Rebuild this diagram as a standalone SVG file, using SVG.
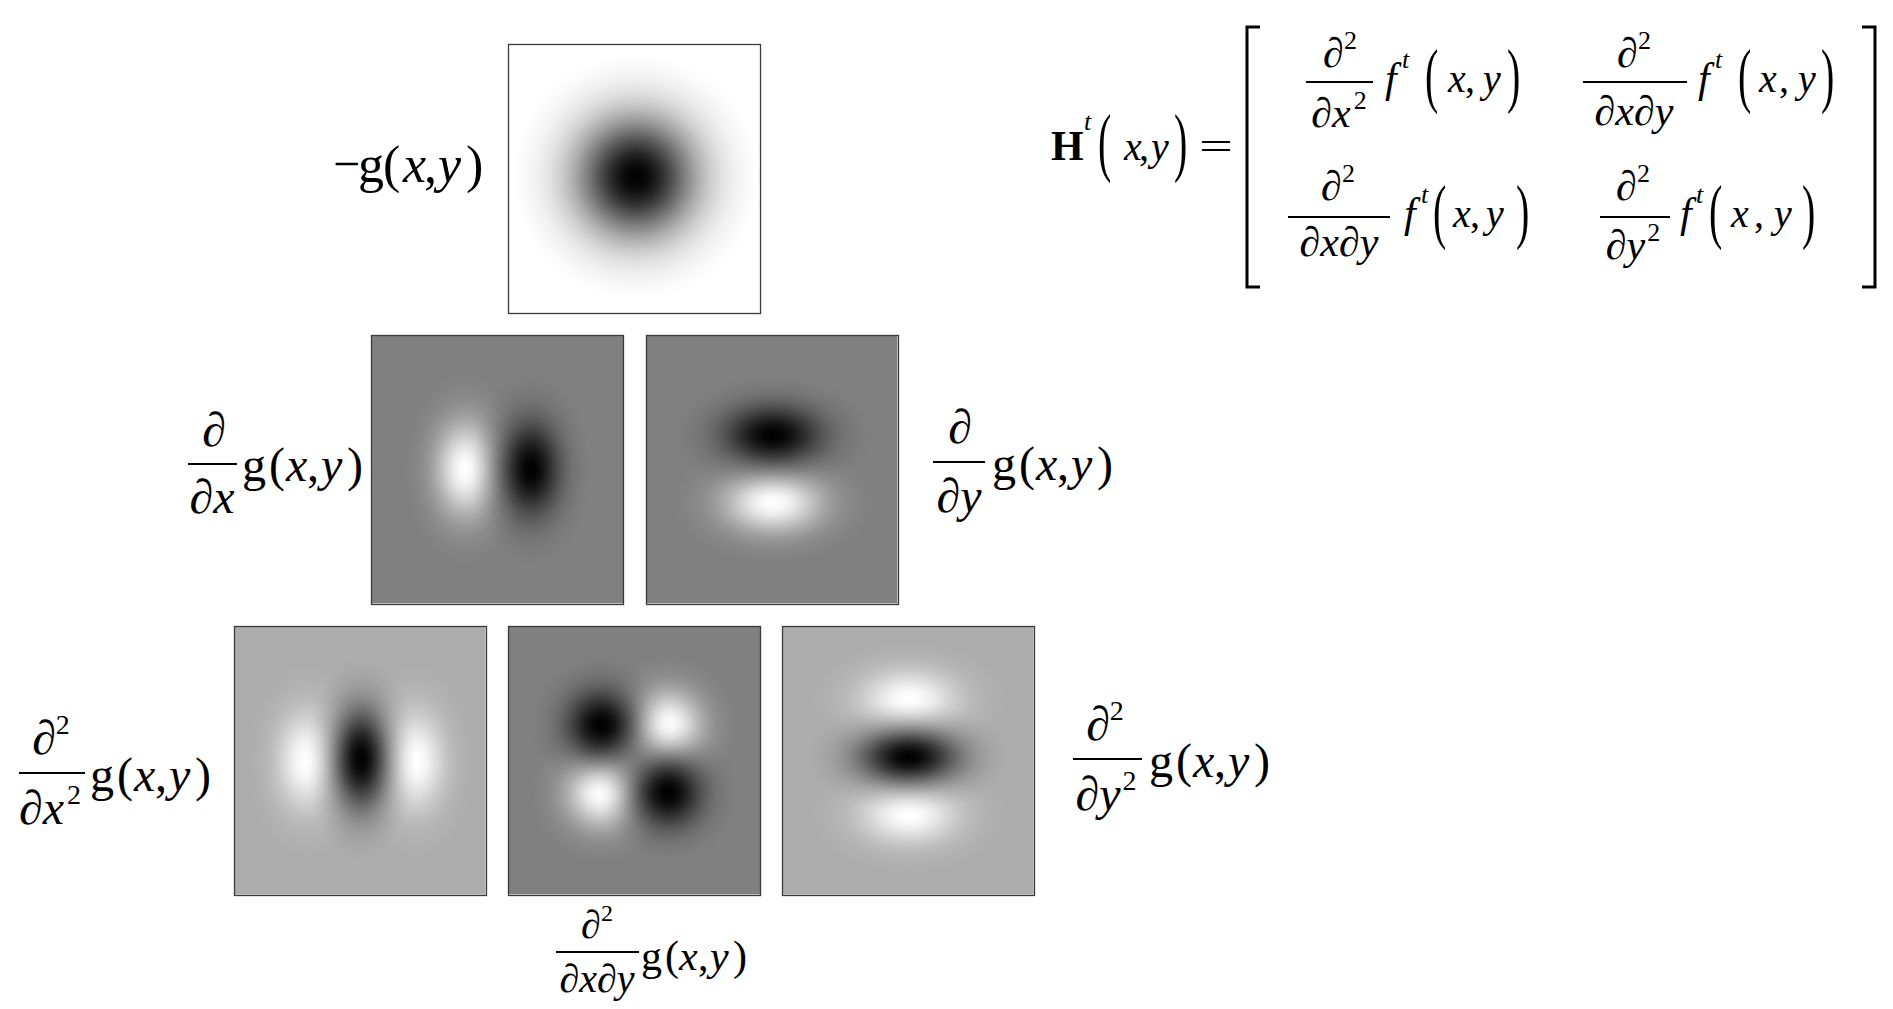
<svg xmlns="http://www.w3.org/2000/svg" width="1893" height="1009" viewBox="0 0 1893 1009">
<style>
text { font-family: "Liberation Serif", "Times New Roman", serif; fill: #000; }
.i { font-style: italic; }
.b { font-weight: bold; }
.bar { stroke: #000; stroke-width: 2; }
.frame { fill: none; stroke: #3a3a3a; stroke-width: 1.3; }
.hl { stroke: #d4d4d4; stroke-width: 1; }
.bgw { fill: #ffffff; }
.bgm { fill: #808080; }
.bgl { fill: #adadad; }
.lbl { font-size: 48px; }
.pd { font-size: 48px; }
.sup { font-size: 28px; }
.mx { font-size: 40px; }
.mf { font-size: 42px; font-style: italic; }
.mpd { font-size: 42px; }
.msup { font-size: 26px; }
.sm { font-size: 42px; }
.smpd { font-size: 40px; }
.smsup { font-size: 24px; }
</style>
<defs>
<radialGradient id="gk">
<stop offset="0" stop-color="#000" stop-opacity="1"/>
<stop offset="0.1" stop-color="#000" stop-opacity="0.956"/>
<stop offset="0.2" stop-color="#000" stop-opacity="0.835"/>
<stop offset="0.3" stop-color="#000" stop-opacity="0.667"/>
<stop offset="0.4" stop-color="#000" stop-opacity="0.487"/>
<stop offset="0.5" stop-color="#000" stop-opacity="0.325"/>
<stop offset="0.6" stop-color="#000" stop-opacity="0.198"/>
<stop offset="0.7" stop-color="#000" stop-opacity="0.110"/>
<stop offset="0.8" stop-color="#000" stop-opacity="0.056"/>
<stop offset="0.9" stop-color="#000" stop-opacity="0.022"/>
<stop offset="1" stop-color="#000" stop-opacity="0"/>
</radialGradient>
<radialGradient id="gw">
<stop offset="0" stop-color="#fff" stop-opacity="1"/>
<stop offset="0.1" stop-color="#fff" stop-opacity="0.956"/>
<stop offset="0.2" stop-color="#fff" stop-opacity="0.835"/>
<stop offset="0.3" stop-color="#fff" stop-opacity="0.667"/>
<stop offset="0.4" stop-color="#fff" stop-opacity="0.487"/>
<stop offset="0.5" stop-color="#fff" stop-opacity="0.325"/>
<stop offset="0.6" stop-color="#fff" stop-opacity="0.198"/>
<stop offset="0.7" stop-color="#fff" stop-opacity="0.110"/>
<stop offset="0.8" stop-color="#fff" stop-opacity="0.056"/>
<stop offset="0.9" stop-color="#fff" stop-opacity="0.022"/>
<stop offset="1" stop-color="#fff" stop-opacity="0"/>
</radialGradient>
<clipPath id="c-gxy"><rect x="508" y="626" width="253" height="270"/></clipPath>
</defs>
<rect width="1893" height="1009" fill="#fff"/>

<g id="panel-g">
<rect class="bgw" x="508" y="44" width="253" height="270"/>
<ellipse cx="636" cy="177" rx="124" ry="124" fill="url(#gk)"/>
<rect class="frame" x="508.5" y="44.5" width="252" height="269"/>
</g>

<g id="panel-gx">
<rect class="bgm" x="371" y="335" width="253" height="270"/>
<ellipse cx="465" cy="469" rx="60" ry="96" fill="url(#gw)"/>
<ellipse cx="531" cy="469" rx="60" ry="96" fill="url(#gk)"/>
<line class="hl" x1="372" y1="603.5" x2="623" y2="603.5"/>
<rect class="frame" x="371.5" y="335.5" width="252" height="269"/>
</g>

<g id="panel-gy">
<rect class="bgm" x="646" y="335" width="253" height="270"/>
<ellipse cx="773" cy="503" rx="100" ry="60" fill="url(#gw)"/>
<ellipse cx="773" cy="435" rx="100" ry="60" fill="url(#gk)"/>
<line class="hl" x1="647" y1="603.5" x2="898" y2="603.5"/>
<line class="hl" x1="897.5" y1="336" x2="897.5" y2="604"/>
<rect class="frame" x="646.5" y="335.5" width="252" height="269"/>
</g>

<g id="panel-gxx">
<rect class="bgl" x="234" y="626" width="253" height="270"/>
<ellipse cx="306" cy="761" rx="58" ry="98" fill="url(#gw)"/>
<ellipse cx="416" cy="761" rx="58" ry="98" fill="url(#gw)"/>
<ellipse cx="361" cy="759" rx="55" ry="102" fill="url(#gk)"/>
<line class="hl" x1="235" y1="894.5" x2="486" y2="894.5"/>
<line class="hl" x1="485.5" y1="627" x2="485.5" y2="895"/>
<rect class="frame" x="234.5" y="626.5" width="252" height="269"/>
</g>

<g id="panel-gxy">
<rect class="bgm" x="508" y="626" width="253" height="270"/>
<g clip-path="url(#c-gxy)">
<ellipse cx="668" cy="725" rx="70" ry="70" fill="url(#gw)"/>
<ellipse cx="601" cy="793" rx="70" ry="70" fill="url(#gw)"/>
<ellipse cx="601" cy="725" rx="70" ry="70" fill="url(#gk)"/>
<ellipse cx="668" cy="793" rx="70" ry="70" fill="url(#gk)"/>
</g>
<line class="hl" x1="509" y1="894.5" x2="760" y2="894.5"/>
<rect class="frame" x="508.5" y="626.5" width="252" height="269"/>
</g>

<g id="panel-gyy">
<rect class="bgl" x="782" y="626" width="253" height="270"/>
<ellipse cx="909" cy="699" rx="98" ry="58" fill="url(#gw)"/>
<ellipse cx="909" cy="815" rx="98" ry="58" fill="url(#gw)"/>
<ellipse cx="909" cy="757" rx="102" ry="55" fill="url(#gk)"/>
<line class="hl" x1="783" y1="894.5" x2="1034" y2="894.5"/>
<line class="hl" x1="1033.5" y1="627" x2="1033.5" y2="895"/>
<rect class="frame" x="782.5" y="626.5" width="252" height="269"/>
</g>

<g id="label-g" font-size="52">
<text x="333" y="180" font-size="48">−</text>
<text x="358" y="182">g</text>
<text x="383" y="182">(</text>
<text class="i" x="403" y="182">x</text>
<text x="424" y="182">,</text>
<text class="i" x="438" y="182">y</text>
<text x="466" y="182">)</text>
</g>

<g id="label-gx">
<text class="pd" x="214" y="446" text-anchor="middle">∂</text>
<line class="bar" x1="188" y1="464" x2="237" y2="464"/>
<text class="pd" x="212" y="513" text-anchor="middle">∂<tspan class="i">x</tspan></text>
<g class="lbl">
<text x="242" y="481">g</text><text x="269" y="481">(</text><text class="i" x="286" y="481">x</text><text x="307" y="481">,</text><text class="i" x="321" y="481">y</text><text x="347" y="481">)</text>
</g>
</g>

<g id="label-gy">
<text class="pd" x="960" y="443" text-anchor="middle">∂</text>
<line class="bar" x1="933" y1="462" x2="985" y2="462"/>
<text class="pd" x="959" y="512" text-anchor="middle">∂<tspan class="i">y</tspan></text>
<g class="lbl">
<text x="992" y="480">g</text><text x="1019" y="480">(</text><text class="i" x="1036" y="480">x</text><text x="1057" y="480">,</text><text class="i" x="1071" y="480">y</text><text x="1097" y="480">)</text>
</g>
</g>

<g id="label-gxx">
<text class="pd" x="51" y="754" text-anchor="middle">∂<tspan class="sup" dy="-20">2</tspan></text>
<line class="bar" x1="19" y1="773" x2="85" y2="773"/>
<text class="pd" x="50" y="824" text-anchor="middle">∂<tspan class="i">x</tspan><tspan class="sup" dx="3" dy="-20">2</tspan></text>
<g class="lbl">
<text x="90" y="791">g</text><text x="117" y="791">(</text><text class="i" x="134" y="791">x</text><text x="155" y="791">,</text><text class="i" x="169" y="791">y</text><text x="195" y="791">)</text>
</g>
</g>

<g id="label-gyy">
<text class="pd" x="1105" y="740" text-anchor="middle">∂<tspan class="sup" dy="-20">2</tspan></text>
<line class="bar" x1="1073" y1="759" x2="1142" y2="759"/>
<text class="pd" x="1106" y="810" text-anchor="middle">∂<tspan class="i">y</tspan><tspan class="sup" dx="2" dy="-20">2</tspan></text>
<g class="lbl">
<text x="1149" y="777">g</text><text x="1176" y="777">(</text><text class="i" x="1193" y="777">x</text><text x="1214" y="777">,</text><text class="i" x="1228" y="777">y</text><text x="1254" y="777">)</text>
</g>
</g>

<g id="label-gxy">
<text class="smpd" x="597" y="938" text-anchor="middle">∂<tspan class="smsup" dy="-17">2</tspan></text>
<line class="bar" x1="556" y1="952" x2="639" y2="952"/>
<text class="smpd" x="597" y="992" text-anchor="middle">∂<tspan class="i">x</tspan>∂<tspan class="i">y</tspan></text>
<g class="sm">
<text x="641" y="970">g</text><text x="665" y="970">(</text><text class="i" x="679" y="970">x</text><text x="698" y="970">,</text><text class="i" x="710" y="970">y</text><text x="733" y="970">)</text>
</g>
</g>

<g id="hessian">
<text class="b" x="1051" y="160" font-size="42">H</text>
<text class="i msup" x="1084" y="130">t</text>
<text class="mx" transform="translate(1098,166.6) scale(1,1.9)">(</text>
<text class="mx i" x="1124" y="160">x</text>
<text class="mx" x="1139" y="160">,</text>
<text class="mx i" x="1151" y="160">y</text>
<text class="mx" transform="translate(1174,166.6) scale(1,1.9)">)</text>
<text class="mx" x="1199" y="160" textLength="34" lengthAdjust="spacingAndGlyphs">=</text>
<path d="M1260,27 H1247 V287 H1260" fill="none" stroke="#000" stroke-width="3"/>
<path d="M1862,27 H1875 V287 H1862" fill="none" stroke="#000" stroke-width="3"/>

<g id="h11">
<text class="mpd" x="1340" y="67" text-anchor="middle">∂<tspan class="msup" dy="-18">2</tspan></text>
<line class="bar" x1="1306" y1="82" x2="1373" y2="82"/>
<text class="mpd" x="1339" y="127" text-anchor="middle">∂<tspan class="i">x</tspan><tspan class="msup" dx="3" dy="-18">2</tspan></text>
<text class="mf" x="1385" y="92">f</text>
<text class="msup i" x="1402" y="68">t</text>
<text class="mx" transform="translate(1425,99) scale(1,1.8)">(</text>
<text class="mx i" x="1448" y="92">x</text>
<text class="mx" x="1465" y="92">,</text>
<text class="mx i" x="1483" y="92">y</text>
<text class="mx" transform="translate(1507,99) scale(1,1.8)">)</text>
</g>

<g id="h12">
<text class="mpd" x="1634" y="67" text-anchor="middle">∂<tspan class="msup" dy="-18">2</tspan></text>
<line class="bar" x1="1583" y1="82" x2="1687" y2="82"/>
<text class="mpd" x="1634" y="125" text-anchor="middle">∂<tspan class="i">x</tspan>∂<tspan class="i">y</tspan></text>
<text class="mf" x="1698" y="92">f</text>
<text class="msup i" x="1715" y="68">t</text>
<text class="mx" transform="translate(1738,99) scale(1,1.8)">(</text>
<text class="mx i" x="1759" y="92">x</text>
<text class="mx" x="1779" y="92">,</text>
<text class="mx i" x="1798" y="92">y</text>
<text class="mx" transform="translate(1821,99) scale(1,1.8)">)</text>
</g>

<g id="h21">
<text class="mpd" x="1338" y="200" text-anchor="middle">∂<tspan class="msup" dy="-18">2</tspan></text>
<line class="bar" x1="1288" y1="217" x2="1390" y2="217"/>
<text class="mpd" x="1339" y="256" text-anchor="middle">∂<tspan class="i">x</tspan>∂<tspan class="i">y</tspan></text>
<text class="mf" x="1404" y="227">f</text>
<text class="msup i" x="1421" y="203">t</text>
<text class="mx" transform="translate(1433,235) scale(1,1.8)">(</text>
<text class="mx i" x="1453" y="227">x</text>
<text class="mx" x="1470" y="227">,</text>
<text class="mx i" x="1486" y="227">y</text>
<text class="mx" transform="translate(1516,235) scale(1,1.8)">)</text>
</g>

<g id="h22">
<text class="mpd" x="1633" y="200" text-anchor="middle">∂<tspan class="msup" dy="-18">2</tspan></text>
<line class="bar" x1="1600" y1="217" x2="1670" y2="217"/>
<text class="mpd" x="1633" y="259" text-anchor="middle">∂<tspan class="i">y</tspan><tspan class="msup" dx="2" dy="-18">2</tspan></text>
<text class="mf" x="1680" y="227">f</text>
<text class="msup i" x="1696" y="203">t</text>
<text class="mx" transform="translate(1709,235) scale(1,1.8)">(</text>
<text class="mx i" x="1731" y="227">x</text>
<text class="mx" x="1754" y="227">,</text>
<text class="mx i" x="1774" y="227">y</text>
<text class="mx" transform="translate(1802,235) scale(1,1.8)">)</text>
</g>
</g>

<g id="connectors"></g>
</svg>
